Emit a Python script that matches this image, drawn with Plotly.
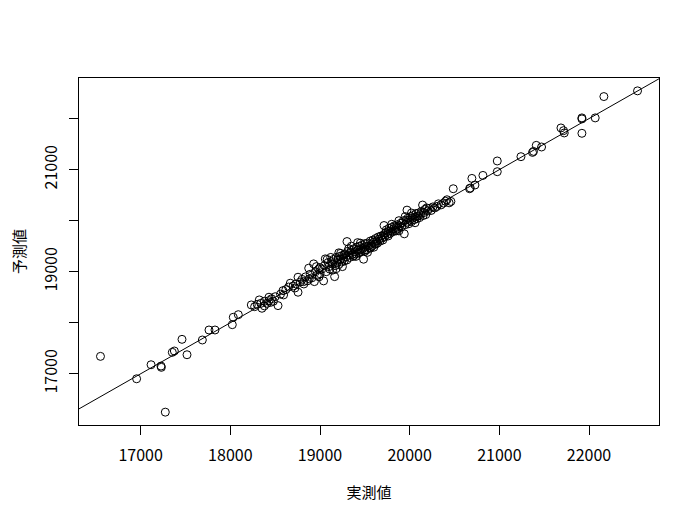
import plotly.graph_objects as go

actual = [
    16552, 16955, 17116, 17227, 17231, 17275, 17353, 17376, 17461, 17517,
    17688, 17762, 17829, 18022, 18033, 18089,
    18234, 18271, 18323, 18353, 18300, 18340, 18380, 18410, 18431, 18431,
    18460, 18480, 18500, 18532, 18560, 18587, 18594, 18620, 18380, 18450,
    18669, 18700, 18720, 18755, 18755, 18780, 18800, 18817, 18840, 18860,
    18874, 18890, 18910, 18929, 18937, 18950, 18970, 18985, 19000, 19000,
    18650, 18730, 18820, 18880, 18960, 18990,
    19040, 19059, 19020, 19050, 19070, 19090, 19100, 19110, 19130, 19140,
    19150, 19163, 19170, 19180, 19190, 19200, 19210, 19220, 19230, 19240,
    19250, 19260, 19270, 19280, 19290, 19301, 19300, 19120, 19180, 19250,
    19080, 19230, 19270, 19140, 19210,
    19310, 19320, 19330, 19340, 19350, 19360, 19370, 19380, 19390, 19400,
    19410, 19420, 19430, 19440, 19450, 19460, 19470, 19480, 19486, 19490,
    19500, 19510, 19520, 19530, 19540, 19550, 19560, 19570, 19580, 19590,
    19600, 19610, 19620, 19630, 19640, 19650, 19660, 19670, 19680, 19690,
    19700, 19320, 19380, 19440, 19500, 19560, 19620, 19350, 19400, 19450,
    19420, 19530, 19600,
    19714, 19710, 19720, 19730, 19740, 19750, 19760, 19770, 19780, 19790,
    19800, 19810, 19820, 19830, 19840, 19850, 19860, 19870, 19880, 19890,
    19900, 19910, 19920, 19930, 19940, 19950, 19960, 19970, 19980, 19990,
    20000, 20010, 20020, 20030, 20040, 20050, 20060, 20070, 20080, 20090,
    20100, 19760, 19850, 19950, 20020, 19800, 19970, 19880, 20060,
    20110, 20120, 20130, 20144, 20150, 20160, 20170, 20180, 20200, 20220,
    20240, 20260, 20280, 20304, 20320, 20350, 20378, 20400, 20416, 20460,
    20440, 20190,
    20486, 20668, 20676, 20694, 20728, 20817, 20977, 20977, 21241, 21370,
    21381, 21412, 21471, 21687, 21716, 21724, 21921, 21921, 21921, 22069,
    22166, 22541,
]
predicted = [
    17341, 16902, 17177, 17151, 17126, 16248, 17420, 17446, 17675, 17373,
    17662, 17858, 17858, 17962, 18107, 18158,
    18349, 18315, 18447, 18284, 18360, 18380, 18420, 18380, 18500, 18433,
    18470, 18420, 18510, 18335, 18560, 18629, 18545, 18650, 18330, 18400,
    18775, 18720, 18680, 18598, 18892, 18800, 18850, 18806, 18900, 18820,
    19069, 18950, 18880, 19153, 18806, 19000, 18930, 19050, 18960, 19080,
    18700, 18760, 18760, 18860, 19100, 18900,
    18820, 19252, 19050, 19120, 19000, 19180, 19100, 19050, 19200, 19150,
    19240, 18904, 19120, 19280, 19180, 19230, 19140, 19300, 19250, 19190,
    19320, 19260, 19210, 19350, 19290, 19591, 19230, 19280, 19060, 19100,
    19240, 19360, 19330, 19030, 19370,
    19400, 19330, 19280, 19380, 19420, 19340, 19300, 19450, 19390, 19350,
    19480, 19420, 19370, 19500, 19440, 19400, 19520, 19460, 19245, 19420,
    19550, 19490, 19430, 19560, 19500, 19470, 19600, 19540, 19500, 19620,
    19580, 19540, 19650, 19600, 19560, 19680, 19640, 19600, 19700, 19660,
    19620, 19450, 19320, 19380, 19400, 19460, 19540, 19500, 19300, 19560,
    19570, 19380, 19480,
    19905, 19720, 19680, 19760, 19820, 19730, 19790, 19850, 19750, 19800,
    19870, 19780, 19840, 19900, 19810, 19870, 19920, 19850, 19800, 19900,
    19950, 19880, 19960, 20000, 19742, 19920, 20010, 19970, 20050, 19940,
    20010, 20080, 19980, 20050, 20100, 20020, 20070, 20140, 20040, 20090,
    20150, 19700, 19800, 20080, 20150, 19930, 20207, 20000, 19960,
    20060, 20120, 20180, 20306, 20100, 20160, 20220, 20120, 20190, 20240,
    20200, 20270, 20250, 20278, 20330, 20310, 20345, 20380, 20410, 20377,
    20350, 20250,
    20626, 20626, 20640, 20828, 20699, 20887, 21170, 20960, 21254, 21338,
    21358, 21476, 21444, 21817, 21764, 21719, 22014, 21994, 21712, 22014,
    22432, 22544,
]

x_ticks = [17000, 18000, 19000, 20000, 21000, 22000]
y_ticks = [17000, 18000, 19000, 20000, 21000, 22000]
y_tick_text = ["17000", "", "19000", "", "21000", ""]

# R-style 4% padding of the data range
def padded(vals):
    lo, hi = min(vals), max(vals)
    d = (hi - lo) * 0.04
    return [lo - d, hi + d]

xr = padded(actual)
yr = padded(predicted)

font_family = "Noto Sans CJK JP, Noto Sans, sans-serif"

fig = go.Figure()
fig.add_trace(go.Scatter(
    x=actual, y=predicted, mode="markers",
    marker=dict(symbol="circle-open", size=8, color="black", line=dict(width=1, color="black")),
    showlegend=False, cliponaxis=False,
))
# abline(0, 1)
fig.add_trace(go.Scatter(
    x=[xr[0], xr[1]], y=[xr[0], xr[1]], mode="lines",
    line=dict(color="black", width=1), showlegend=False,
))

fig.update_layout(
    width=699, height=523,
    margin=dict(l=71, r=48, t=70, b=106),
    paper_bgcolor="white", plot_bgcolor="white",
    font=dict(family=font_family, color="black", size=16),
    xaxis=dict(
        range=xr, tickvals=x_ticks, ticktext=[str(v) for v in x_ticks],
        ticks="outside", ticklen=9, tickwidth=1, tickcolor="black",
        showline=True, linecolor="black", linewidth=1, mirror=True,
        showgrid=False, zeroline=False, automargin=False,
        tickfont=dict(size=16), ticklabelstandoff=7,
        title=dict(text="実測値", font=dict(size=15), standoff=22),
    ),
    yaxis=dict(
        range=yr, tickvals=y_ticks, ticktext=y_tick_text,
        ticks="outside", ticklen=9, tickwidth=1, tickcolor="black",
        showline=True, linecolor="black", linewidth=1, mirror=True,
        showgrid=False, zeroline=False, tickangle=-90, automargin=False,
        tickfont=dict(size=16), ticklabelstandoff=6,
        title=dict(text="予測値", font=dict(size=15), standoff=15),
    ),
)

fig.write_html("out.html")
